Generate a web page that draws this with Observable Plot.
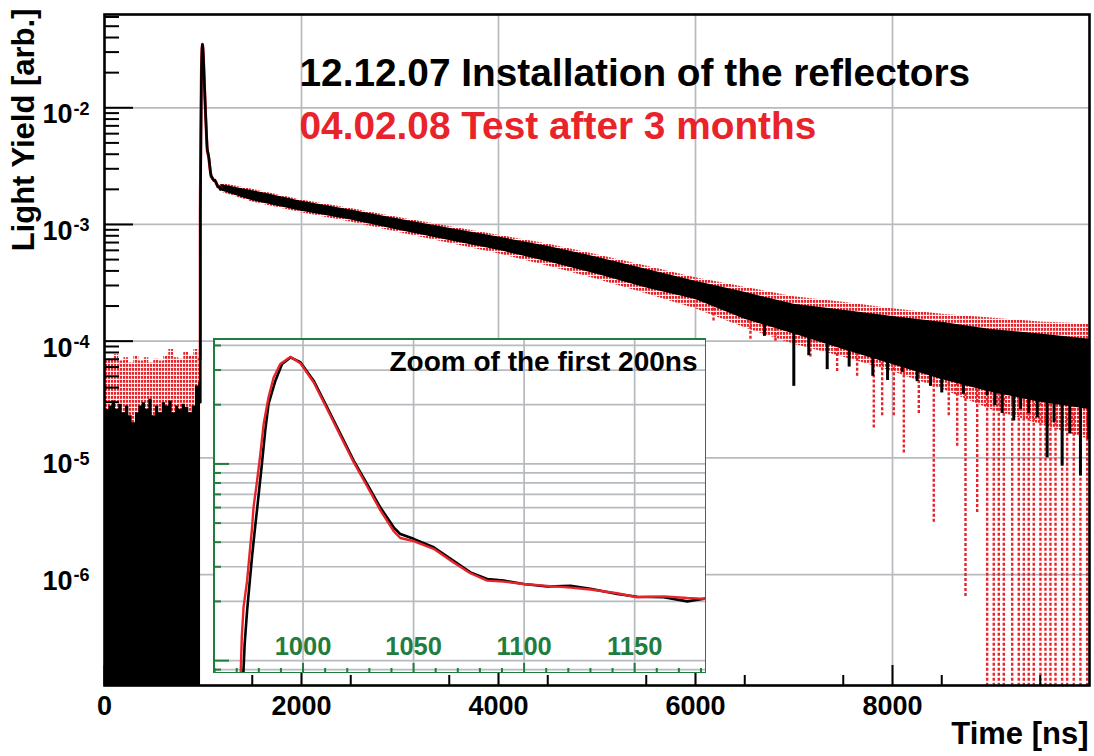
<!DOCTYPE html>
<html>
<head>
<meta charset="utf-8">
<script src="https://cdn.jsdelivr.net/npm/d3@7"></script>
<script src="https://cdn.jsdelivr.net/npm/@observablehq/plot@0.6"></script>
<style>
  html, body { margin: 0; padding: 0; background: white; }
  #wrap { position: relative; width: 1094px; height: 756px; }
  #inset { position: absolute; left: 213px; top: 338px; }
</style>
</head>
<body>
<div id="wrap"><div id="main"></div><div id="inset"></div></div>
<script>
// ---------- colours / fonts ----------
const RED = "#e8232a";
const GREEN = "#1f7d3e";
const GRID = "#b7babe";
const FONT = "'Liberation Sans', Arial, Helvetica, sans-serif";

// ---------- main axes ----------
const X_DOMAIN = [0, 10000];
const Y_DOMAIN = [1.12e-7, 0.063];
const xTickLabels = [0, 2000, 4000, 6000, 8000];
const yDecades = [1e-6, 1e-5, 1e-4, 1e-3, 1e-2];
const yExponents = ["-6", "-5", "-4", "-3", "-2"];

// ---------- texts ----------
const legend1 = "12.12.07 Installation of the reflectors";
const legend2 = "04.02.08 Test after 3 months";
const xTitle = "Time [ns]";
const yTitle = "Light Yield [arb.]";
const insetTitle = "Zoom of the first 200ns";

// ---------- pre-peak region (t < 975 ns) ----------
const preBlackT = [0, 44, 78, 112, 145, 180, 213, 247, 281, 315, 348, 382, 416, 450, 484, 518, 551, 586, 619, 653, 687, 721, 754, 789, 822, 856, 890, 924, 957, 975];
const preBlackV = [2.6e-5, 2.78e-5, 3.07e-5, 2.61e-5, 2.88e-5, 2.44e-5, 2.78e-5, 2.29e-5, 2.0e-5, 2.44e-5, 2.78e-5, 2.97e-5, 2.61e-5, 3.18e-5, 2.29e-5, 2.78e-5, 2.44e-5, 2.97e-5, 2.78e-5, 3.07e-5, 2.44e-5, 2.78e-5, 2.61e-5, 2.88e-5, 2.7e-5, 2.44e-5, 2.78e-5, 4.13e-5, 4.42e-5, 4.42e-5];
const preRedT = [0, 44, 95, 145, 196, 247, 298, 348, 399, 450, 501, 551, 602, 653, 704, 754, 805, 856, 907, 957, 975];
const preRedV = [6.8e-5, 7.0e-5, 7.7e-5, 6.76e-5, 7.2e-5, 6.5e-5, 7.46e-5, 6.76e-5, 7.2e-5, 6.5e-5, 7.0e-5, 6.76e-5, 7.46e-5, 8.5e-5, 7.2e-5, 7.0e-5, 8.0e-5, 7.46e-5, 8.5e-5, 6.5e-5, 6.5e-5];

// ---------- peak region (also the inset), t in ns ----------
const peakBlackT = [960, 973.0, 973.6, 974.7, 975.8, 976.9, 978.0, 979.5, 981.4, 982.9, 984.4, 987.5, 990.5, 994.3, 998.8, 1004.8, 1010.9, 1016.9, 1022.9, 1029.0, 1035.0, 1041.0, 1044.0, 1050.0, 1059.1, 1068.1, 1075.7, 1083.3, 1090.8, 1099.8, 1110.4, 1121.0, 1130.0, 1142.1, 1151.1, 1163.2, 1173.8, 1182.0];
const peakBlackV = [3e-5, 3e-5, 1.216e-3, 1.795e-3, 2.455e-3, 3.35e-3, 4.41e-3, 6.3e-3, 1.0e-2, 1.476e-2, 2.02e-2, 2.65e-2, 3.22e-2, 3.48e-2, 3.29e-2, 2.65e-2, 1.94e-2, 1.42e-2, 1.04e-2, 7.9e-3, 6.0e-3, 4.76e-3, 4.4e-3, 4.16e-3, 3.77e-3, 3.22e-3, 2.81e-3, 2.60e-3, 2.55e-3, 2.45e-3, 2.38e-3, 2.40e-3, 2.32e-3, 2.18e-3, 2.11e-3, 2.10e-3, 2.0e-3, 2.07e-3];
const peakRedT = [960, 971.8, 972.3, 973.1, 974.7, 975.8, 976.9, 977.6, 979.2, 980.7, 982.2, 984.4, 986.7, 989.7, 994.3, 998.8, 1004.8, 1010.9, 1016.9, 1022.9, 1029.0, 1035.0, 1041.0, 1044.0, 1050.0, 1059.1, 1068.1, 1075.7, 1083.3, 1090.8, 1099.8, 1110.4, 1121.0, 1130.0, 1142.1, 1151.1, 1163.2, 1173.8, 1182.0];
const peakRedV = [7e-5, 7e-5, 1.32e-3, 1.87e-3, 2.55e-3, 3.48e-3, 4.67e-3, 6.0e-3, 8.2e-3, 1.125e-2, 1.6e-2, 2.18e-2, 2.75e-2, 3.22e-2, 3.5e-2, 3.25e-2, 2.6e-2, 1.9e-2, 1.39e-2, 1.02e-2, 7.7e-3, 5.8e-3, 4.55e-3, 4.2e-3, 4.05e-3, 3.7e-3, 3.15e-3, 2.78e-3, 2.55e-3, 2.52e-3, 2.45e-3, 2.4e-3, 2.35e-3, 2.3e-3, 2.2e-3, 2.1e-3, 2.12e-3, 2.08e-3, 2.06e-3];

// ---------- slow decay band (envelopes of the noisy histograms) ----------
const bandT   = [1182, 1500, 2000, 2500, 3000, 3500, 4000, 4500, 5000, 5500, 6000, 6500, 7000, 7500, 8000, 8500, 9000, 9500, 10000];
const blackLo = [1.95e-3, 1.6e-3, 1.30e-3, 1.09e-3, 8.9e-4, 7.3e-4, 6.0e-4, 4.8e-4, 3.75e-4, 2.85e-4, 2.28e-4, 1.54e-4, 1.15e-4, 8.5e-5, 6.3e-5, 4.7e-5, 3.65e-5, 3.0e-5, 2.6e-5];
const blackHi = [2.2e-3, 1.95e-3, 1.58e-3, 1.33e-3, 1.11e-3, 9.3e-4, 7.8e-4, 6.5e-4, 5.25e-4, 4.14e-4, 3.26e-4, 2.62e-4, 2.07e-4, 1.84e-4, 1.63e-4, 1.45e-4, 1.26e-4, 1.15e-4, 1.04e-4];
const redLo   = [1.9e-3, 1.56e-3, 1.26e-3, 1.05e-3, 8.5e-4, 6.9e-4, 5.6e-4, 4.4e-4, 3.4e-4, 2.55e-4, 1.9e-4, 1.3e-4, 9.4e-5, 7.3e-5, 5.5e-5, 3.9e-5, 2.6e-5, 1.94e-5, 1.44e-5];
const redHi   = [2.25e-3, 2.0e-3, 1.62e-3, 1.37e-3, 1.14e-3, 9.6e-4, 8.1e-4, 6.8e-4, 5.5e-4, 4.4e-4, 3.5e-4, 2.9e-4, 2.4e-4, 2.15e-4, 1.9e-4, 1.7e-4, 1.58e-4, 1.46e-4, 1.4e-4];

// downward excursions: [t, lowest value, band value]
const blackSpikes = [[6700, 1.1e-4, 2.0e-4], [6998, 4.1e-5, 1.5e-4], [7150, 7.5e-5, 1.5e-4], [7337, 5.7e-5, 1.3e-4], [7560, 6.0e-5, 1.2e-4], [7800, 5.0e-5, 1.1e-4], [7950, 4.6e-5, 1.0e-4], [8098, 5.4e-5, 1.0e-4], [8250, 4.5e-5, 9e-5], [8386, 4.1e-5, 9e-5], [8500, 3.6e-5, 8e-5], [8622, 5.0e-5, 8e-5], [8720, 3.5e-5, 8e-5], [8809, 4.1e-5, 8e-5], [8961, 3.4e-5, 7e-5], [9040, 2.8e-5, 7e-5], [9113, 2.4e-5, 6e-5], [9231, 2.07e-5, 6e-5], [9300, 2.6e-5, 6e-5], [9383, 2.4e-5, 6e-5], [9470, 2.2e-5, 6e-5], [9570, 1.0e-5, 5e-5], [9640, 2.0e-5, 5e-5], [9722, 8.5e-6, 5e-5], [9800, 1.6e-5, 5e-5], [9908, 7.0e-6, 5e-5], [9992, 1.44e-5, 5e-5]];
const redSpikes = [[6183, 1.49e-4, 2.5e-4], [6558, 1.04e-4, 2.0e-4], [6812, 1.0e-4, 1.8e-4], [7167, 7.3e-5, 1.6e-4], [7438, 5.5e-5, 1.4e-4], [7641, 5.0e-5, 1.3e-4], [7810, 1.8e-5, 1.2e-4], [7895, 2.3e-5, 1.2e-4], [8013, 2.3e-5, 1.1e-4], [8115, 1.1e-5, 1.1e-4], [8267, 2.4e-5, 1.0e-4], [8419, 2.8e-6, 1.0e-4], [8571, 2.3e-5, 9.5e-5], [8657, 1.26e-5, 9e-5], [8741, 6.5e-7, 9e-5], [8860, 3.4e-6, 8.5e-5],
  [8961, 1e-7, 8e-5], [9028, 1e-7, 8e-5], [9079, 1e-7, 8e-5], [9130, 1e-7, 8e-5], [9215, 1e-7, 8e-5], [9282, 1e-7, 8e-5], [9333, 1e-7, 8e-5], [9383, 1e-7, 8e-5], [9434, 1e-7, 8e-5], [9502, 1e-7, 8e-5], [9553, 1e-7, 8e-5], [9604, 1e-7, 8e-5], [9655, 1e-7, 8e-5], [9722, 1e-7, 8e-5], [9773, 1e-7, 8e-5], [9840, 1e-7, 8e-5], [9908, 1e-7, 8e-5], [9976, 1e-7, 8e-5]];

// ---------- inset axes ----------
const INSET_X = [959.5, 1182.5];
const INSET_Y = [8.6e-4, 4.34e-2];
const insetXLabels = [1000, 1050, 1100, 1150];
const insetYMajor = [1e-3, 1e-2];

// ---------- build tables ----------
const zipTV = (T, V) => T.map((t, i) => ({t, v: V[i]}));
const preBlack = zipTV(preBlackT, preBlackV);
const preRed = zipTV(preRedT, preRedV);
const peakBlack = zipTV(peakBlackT, peakBlackV);
const peakRed = zipTV(peakRedT, peakRedV);
const band = bandT.map((t, i) => ({t, blo: blackLo[i], bhi: blackHi[i], rlo: redLo[i], rhi: redHi[i]}));
const bSp = blackSpikes.map(([t, lo, hi]) => ({t, lo, hi}));
const rSp = redSpikes.map(([t, lo, hi]) => ({t, lo, hi}));
const expOf = new Map(yDecades.map((d, i) => [d, yExponents[i]]));

// log minor ticks
function logMinors(lo, hi) {
  const out = [];
  for (let e = Math.floor(Math.log10(lo)); e <= Math.ceil(Math.log10(hi)); e++)
    for (let k = 2; k <= 9; k++) { const v = k * 10 ** e; if (v >= lo && v <= hi) out.push(v); }
  return out;
}
const yMinor = logMinors(Y_DOMAIN[0], Y_DOMAIN[1]);
const xMinor = d3.range(500, 10000, 1000);
const insetYMinor = logMinors(INSET_Y[0], INSET_Y[1]);
const insetYGrid = [...insetYMinor, ...insetYMajor];
const insetXMinor = d3.range(960, 1182, 10).filter(v => v % 50 !== 0);

const W = 1094, H = 756, ML = 104, MT = 14, MR = 5, MB = 71;
const PW = W - ML - MR, PH = H - MT - MB;

const main = Plot.plot({
  width: W, height: H,
  marginLeft: ML, marginTop: MT, marginRight: MR, marginBottom: MB,
  x: {domain: X_DOMAIN, label: null},
  y: {type: "log", domain: Y_DOMAIN, label: null},
  style: {fontFamily: FONT, background: "white", color: "black"},
  marks: [
    Plot.gridX(xTickLabels.slice(1), {stroke: GRID, strokeOpacity: 1, strokeWidth: 1.7}),
    Plot.gridY(yDecades, {stroke: GRID, strokeOpacity: 1, strokeWidth: 1.7}),
    // pre-peak
    Plot.areaY(preRed, {x: "t", y1: Y_DOMAIN[0], y2: "v", curve: "step-after", fill: "url(#reddots)"}),
    Plot.areaY(preBlack, {x: "t", y1: Y_DOMAIN[0], y2: "v", curve: "step-after", fill: "black"}),
    // slow decay
    Plot.areaY(band, {x: "t", y1: "rlo", y2: "rhi", fill: "url(#reddots)"}),
    Plot.ruleX(rSp, {x: "t", y1: "lo", y2: "hi", stroke: RED, strokeWidth: 2.4, strokeDasharray: "3,2", clip: true}),
    Plot.areaY(band, {x: "t", y1: "blo", y2: "bhi", fill: "black"}),
    Plot.ruleX(bSp, {x: "t", y1: "lo", y2: "hi", stroke: "black", strokeWidth: 3}),
    // fast peak
    Plot.line(peakRed, {x: "t", y: "v", stroke: RED, strokeWidth: 3}),
    Plot.line(peakBlack, {x: "t", y: "v", stroke: "black", strokeWidth: 2.6}),
    // ticks
    Plot.tickY(yMinor, {y: d => d, insetRight: PW - 15, stroke: "black", strokeWidth: 2}),
    Plot.tickY(yDecades, {y: d => d, insetRight: PW - 29, stroke: "black", strokeWidth: 2}),
    Plot.tickX(xMinor, {x: d => d, insetTop: PH - 10, stroke: "black", strokeWidth: 2}),
    Plot.tickX(xTickLabels, {x: d => d, insetTop: PH - 20, stroke: "black", strokeWidth: 2}),
    Plot.frame({stroke: "black", strokeWidth: 2.6}),
    // axis labels
    Plot.axisX(xTickLabels, {tickSize: 0, tickPadding: 10, tickFormat: d => String(d), fontSize: 27, fontWeight: "bold", label: null, fill: "black"}),
    Plot.axisY(yDecades, {tickSize: 0, tickPadding: 32, tickFormat: () => "10", fontSize: 27, fontWeight: "bold", dy: 7, label: null, fill: "black"}),
    Plot.axisY(yDecades, {tickSize: 0, tickPadding: 31, tickFormat: d => expOf.get(d), textAnchor: "start", fontSize: 18, fontWeight: "bold", dy: 1, label: null, fill: "black"}),
    Plot.text([xTitle], {text: d => d, frameAnchor: "bottom-right", dx: -1, dy: 49, textAnchor: "end", lineAnchor: "middle", fontSize: 31, fontWeight: "bold", fill: "black"}),
    Plot.text([yTitle], {text: d => d, frameAnchor: "top-left", rotate: -90, dx: -80, dy: -6, textAnchor: "end", lineAnchor: "middle", fontSize: 31, fontWeight: "bold", fill: "black"}),
    Plot.text([legend1], {text: d => d, frameAnchor: "top-left", dx: 195, dy: 59.5, textAnchor: "start", lineAnchor: "middle", fontSize: 38.8, fontWeight: "bold", fill: "black"}),
    Plot.text([legend2], {text: d => d, frameAnchor: "top-left", dx: 195, dy: 112.5, textAnchor: "start", lineAnchor: "middle", fontSize: 38.8, fontWeight: "bold", fill: RED})
  ]
});

// dotted red fill (ROOT dotted line style)
const defs = d3.select(main).insert("defs", ":first-child");
const pat = defs.append("pattern").attr("id", "reddots").attr("patternUnits", "userSpaceOnUse").attr("width", 3).attr("height", 4);
pat.append("rect").attr("x", 0).attr("y", 0).attr("width", 2.2).attr("height", 2.8).attr("fill", RED);
document.getElementById("main").appendChild(main);

const IW = 493, IH = 335;
const inset = Plot.plot({
  width: IW, height: IH, margin: 0,
  x: {domain: INSET_X, label: null, axis: null},
  y: {type: "log", domain: INSET_Y, clamp: true, label: null, axis: null},
  style: {fontFamily: FONT, background: "white", color: "black"},
  marks: [
    Plot.gridY(insetYGrid, {stroke: GRID, strokeOpacity: 1, strokeWidth: 1.7}),
    Plot.gridX(insetXLabels, {stroke: GRID, strokeOpacity: 1, strokeWidth: 1.7}),
    Plot.tickY(insetYMinor, {y: d => d, insetRight: IW - 8, stroke: GREEN, strokeWidth: 2}),
    Plot.tickY(insetYMajor, {y: d => d, insetRight: IW - 16, stroke: GREEN, strokeWidth: 2}),
    Plot.tickX(insetXMinor, {x: d => d, insetTop: IH - 5, stroke: GREEN, strokeWidth: 2}),
    Plot.tickX(insetXLabels, {x: d => d, insetTop: IH - 10, stroke: GREEN, strokeWidth: 2}),
    Plot.line(peakBlack, {x: "t", y: "v", stroke: "black", strokeWidth: 2.6}),
    Plot.line(peakRed, {x: "t", y: "v", stroke: RED, strokeWidth: 2.4}),
    Plot.text(insetXLabels, {x: d => d, text: d => String(d), frameAnchor: "bottom", dy: -27, lineAnchor: "middle", fontSize: 25.5, fontWeight: "bold", fill: GREEN}),
    Plot.text([insetTitle], {text: d => d, frameAnchor: "top-right", dx: -9, dy: 24, textAnchor: "end", lineAnchor: "middle", fontSize: 28, fontWeight: "bold", fill: "black"}),
    Plot.frame({stroke: GREEN, strokeWidth: 3})
  ]
});
document.getElementById("inset").appendChild(inset);
</script>
</body>
</html>
